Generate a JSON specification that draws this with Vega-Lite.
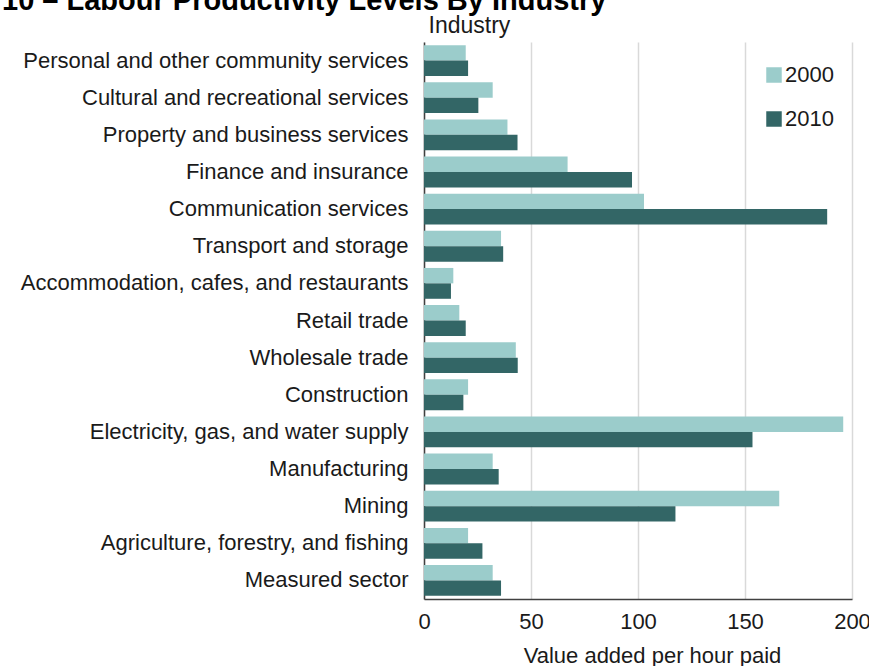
{
  "$schema": "https://vega.github.io/schema/vega-lite/v6.json",
  "width": 428,
  "height": 557,
  "autosize": {"type": "none"},
  "padding": {"left": 424, "top": 42, "right": 17, "bottom": 67},
  "background": "white",
  "title": {
    "text": "10 – Labour Productivity Levels By Industry",
    "anchor": "start",
    "frame": "group",
    "font": "Liberation Sans",
    "fontSize": 29,
    "fontWeight": "bold",
    "color": "#000000",
    "baseline": "alphabetic",
    "dx": -422,
    "dy": 25,
    "offset": 0
  },
  "data": {
    "values": [
      {"industry": "Personal and other community services", "year": "2000", "value": 19.5},
      {"industry": "Personal and other community services", "year": "2010", "value": 20.6},
      {"industry": "Cultural and recreational services", "year": "2000", "value": 32.1},
      {"industry": "Cultural and recreational services", "year": "2010", "value": 25.4},
      {"industry": "Property and business services", "year": "2000", "value": 39.0},
      {"industry": "Property and business services", "year": "2010", "value": 43.7},
      {"industry": "Finance and insurance", "year": "2000", "value": 67.1},
      {"industry": "Finance and insurance", "year": "2010", "value": 97.2},
      {"industry": "Communication services", "year": "2000", "value": 102.8},
      {"industry": "Communication services", "year": "2010", "value": 188.4},
      {"industry": "Transport and storage", "year": "2000", "value": 36.0},
      {"industry": "Transport and storage", "year": "2010", "value": 37.0},
      {"industry": "Accommodation, cafes, and restaurants", "year": "2000", "value": 13.7},
      {"industry": "Accommodation, cafes, and restaurants", "year": "2010", "value": 12.6},
      {"industry": "Retail trade", "year": "2000", "value": 16.5},
      {"industry": "Retail trade", "year": "2010", "value": 19.5},
      {"industry": "Wholesale trade", "year": "2000", "value": 42.9},
      {"industry": "Wholesale trade", "year": "2010", "value": 43.8},
      {"industry": "Construction", "year": "2000", "value": 20.6},
      {"industry": "Construction", "year": "2010", "value": 18.4},
      {"industry": "Electricity, gas, and water supply", "year": "2000", "value": 195.9},
      {"industry": "Electricity, gas, and water supply", "year": "2010", "value": 153.5},
      {"industry": "Manufacturing", "year": "2000", "value": 32.1},
      {"industry": "Manufacturing", "year": "2010", "value": 34.9},
      {"industry": "Mining", "year": "2000", "value": 166.0},
      {"industry": "Mining", "year": "2010", "value": 117.5},
      {"industry": "Agriculture, forestry, and fishing", "year": "2000", "value": 20.6},
      {"industry": "Agriculture, forestry, and fishing", "year": "2010", "value": 27.3},
      {"industry": "Measured sector", "year": "2000", "value": 32.1},
      {"industry": "Measured sector", "year": "2010", "value": 36.0}
    ]
  },
  "mark": {"type": "bar"},
  "encoding": {
    "y": {
      "field": "industry",
      "type": "nominal",
      "sort": null,
      "scale": {"paddingInner": 0.17, "paddingOuter": 0.085},
      "axis": {
        "title": "Industry",
        "titleAngle": 0,
        "titleAlign": "left",
        "titleBaseline": "alphabetic",
        "titleX": 4,
        "titleY": -10,
        "titleFont": "Liberation Sans",
        "titleFontSize": 23,
        "titleFontWeight": "normal",
        "titleColor": "#1a1a1a",
        "labelFont": "Liberation Sans",
        "labelFontSize": 22,
        "labelColor": "#1a1a1a",
        "labelPadding": 16,
        "labelLimit": 500,
        "ticks": false,
        "domainColor": "#404040",
        "domainWidth": 1.5,
        "grid": false
      }
    },
    "yOffset": {"field": "year", "type": "nominal"},
    "x": {
      "field": "value",
      "type": "quantitative",
      "scale": {"domain": [0, 200], "nice": false},
      "axis": {
        "title": "Value added per hour paid",
        "values": [0, 50, 100, 150, 200],
        "titleFont": "Liberation Sans",
        "titleFontSize": 22,
        "titleFontWeight": "normal",
        "titleColor": "#1a1a1a",
        "titleBaseline": "alphabetic",
        "titleX": 228,
        "titleY": 63,
        "labelFont": "Liberation Sans",
        "labelFontSize": 22,
        "labelColor": "#1a1a1a",
        "labelPadding": 12,
        "labelFlush": false,
        "ticks": false,
        "domainColor": "#404040",
        "domainWidth": 1.5,
        "grid": true,
        "gridColor": "#d9d9d9",
        "gridWidth": 1.5
      }
    },
    "color": {
      "field": "year",
      "type": "nominal",
      "scale": {"domain": ["2000", "2010"], "range": ["#9BCCCB", "#336666"]},
      "legend": {
        "title": null,
        "orient": "none",
        "legendX": 339,
        "legendY": 22,
        "symbolType": "square",
        "symbolSize": 240,
        "symbolStrokeWidth": 0,
        "labelFont": "Liberation Sans",
        "labelFontSize": 22,
        "labelColor": "#1a1a1a",
        "labelOffset": 0,
        "rowPadding": 22
      }
    }
  },
  "config": {"view": {"stroke": null}}
}
